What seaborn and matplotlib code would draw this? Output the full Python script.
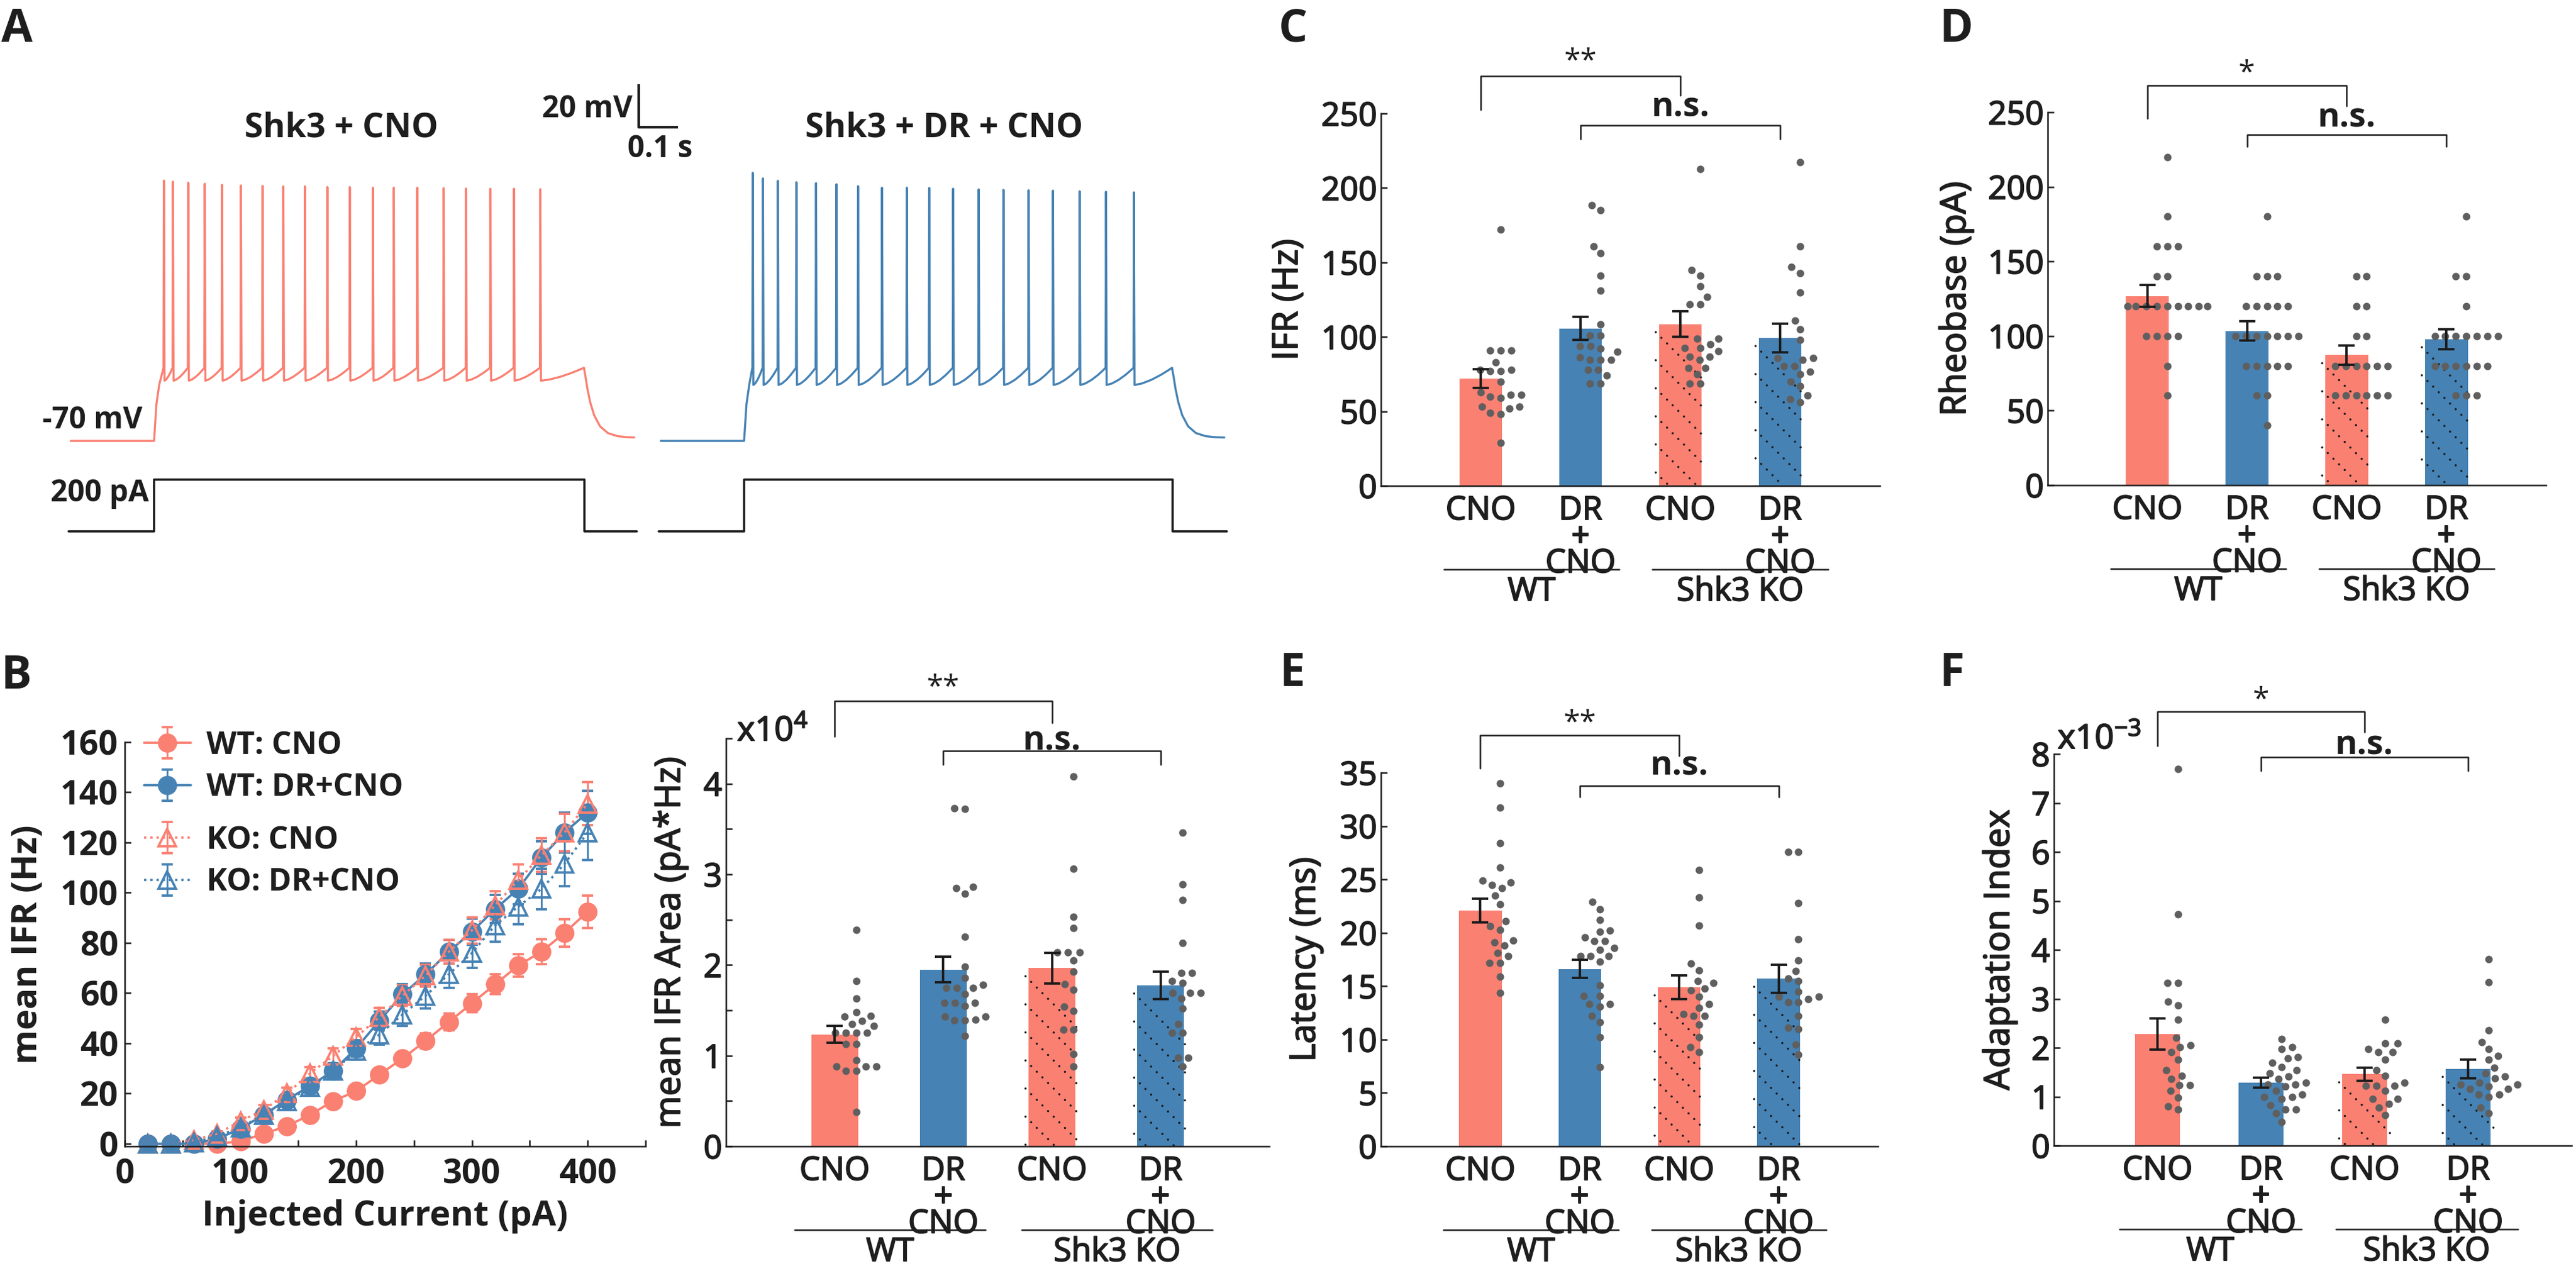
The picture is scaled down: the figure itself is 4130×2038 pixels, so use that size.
import warnings
import numpy as np
import pandas as pd
import seaborn as sns
import matplotlib.pyplot as plt
from matplotlib import patheffects as pe
from matplotlib.lines import Line2D
from matplotlib.patches import Rectangle
from matplotlib.ticker import MultipleLocator
from matplotlib.transforms import IdentityTransform

warnings.filterwarnings('ignore')

W, H, DPI = 4130, 2038, 300
RED = '#FA8072'
BLUE = '#4682B4'
DOT = '#5f5f5f'
INK = '#1e1e1e'

# ---------------- A: example current-clamp traces (ms after step onset, mV)
a_left_spikes = [25, 48, 87, 129, 173, 221, 276, 329, 384, 441, 498, 557, 610, 670, 737, 794, 856, 916, 983]
a_left_peaks = [51, 50.5, 50, 49.5, 49, 48.7, 48.5, 48.3, 48.3, 48, 48, 47.7, 47.7, 47.7, 47.5, 47.3, 47.2, 47.2, 47]
a_right_spikes = [22, 48, 86, 133, 183, 235, 290, 351, 414, 471, 532, 597, 660, 724, 786, 854, 921, 992]
a_right_peaks = [54.6, 52, 50.9, 50.2, 49.8, 49.3, 48.4, 47.7, 47.7, 47.6, 47.2, 46.9, 46.7, 46.5, 46.3, 46, 45.8, 45.5]
a_rest_mv = -70
a_step_pa = 200
a_step_ms = 1095

# ---------------- B left: mean IFR vs injected current
b_current = [20, 40, 60, 80, 100, 120, 140, 160, 180, 200, 220, 240, 260, 280, 300, 320, 340, 360, 380, 400]
b_wt_cno = [0, 0, 0, 0, 1, 4, 7, 11.5, 17, 21, 27.5, 34, 41, 48.5, 56, 63.5, 71, 76.5, 84, 92.5]
b_wt_cno_sem = [0.3, 0.3, 0.3, 0.3, 0.5, 1, 1.2, 1.5, 1.8, 2, 2.3, 2.6, 3, 3.3, 3.7, 4, 4.5, 5, 5.5, 6.5]
b_wt_dr = [0, 0, 0, 2, 6, 11.5, 17.5, 23, 29, 38, 49, 59.5, 67.5, 76.5, 84.5, 93.5, 101.5, 114, 124, 132]
b_wt_dr_sem = [0.3, 0.3, 0.5, 0.8, 1.2, 1.6, 2, 2.4, 2.8, 3.2, 3.6, 4, 4.4, 4.8, 5.2, 5.6, 6, 6.5, 8, 8.5]
b_ko_cno = [0, 0, 1.5, 4, 9, 13.5, 20, 28, 35, 42.5, 50.5, 59, 67, 76.5, 85, 95, 105, 115, 124, 135.5]
b_ko_cno_sem = [0.3, 0.3, 0.6, 1, 1.5, 2, 2.3, 2.6, 3, 3.3, 3.7, 4, 4.4, 4.8, 5.2, 5.6, 6.2, 6.8, 7.5, 8.5]
b_ko_dr = [0, 0, 0.5, 3, 6.5, 11.5, 17, 22.5, 29, 37, 43.5, 51.5, 59, 67.5, 76, 87, 94.5, 101.5, 111.5, 124]
b_ko_dr_sem = [0.3, 0.3, 0.5, 0.8, 1.3, 1.7, 2, 2.5, 3, 3.5, 4, 4.5, 5, 5.5, 6, 6.5, 7, 8, 9, 11]

# ---------------- bar panels, order: WT CNO, WT DR+CNO, KO CNO, KO DR+CNO
groups = ['CNO', 'DR\n+\nCNO', 'CNO', 'DR\n+\nCNO']
bar_colors = [RED, BLUE, RED, BLUE]

# B right: mean IFR area (x10^4 pA*Hz)
area_mean = [1.235, 1.95, 1.965, 1.775]
area_sem = [0.09, 0.14, 0.17, 0.15]
area_wt_cno = [2.39, 1.82, 1.63, 1.48, 1.44, 1.43, 1.38, 1.35, 1.33, 1.25, 1.25, 1.25, 1.25, 1.13, 1.13, 0.95, 0.88, 0.88, 0.88, 0.83, 0.83, 0.38]
area_wt_dr = [3.73, 3.72, 2.86, 2.85, 2.79, 2.31, 1.98, 1.86, 1.78, 1.75, 1.75, 1.75, 1.68, 1.58, 1.58, 1.58, 1.55, 1.43, 1.43, 1.40, 1.39, 1.39, 1.22]
area_ko_cno = [4.08, 3.06, 2.53, 2.41, 2.14, 2.14, 2.14, 2.05, 1.93, 1.79, 1.73, 1.54, 1.49, 1.29, 1.29, 1.02, 0.88]
area_ko_dr = [3.46, 2.89, 2.72, 2.24, 1.91, 1.91, 1.82, 1.80, 1.69, 1.69, 1.69, 1.63, 1.52, 1.35, 1.25, 1.25, 0.98, 0.98, 0.88]

# C: IFR (Hz)
ifr_mean = [72, 105.7, 108.6, 99.3]
ifr_sem = [6.4, 7.6, 8.7, 9.5]
ifr_wt_cno = [172, 91, 91, 91, 83, 78, 78, 77, 77, 70, 63, 61, 61, 60, 59, 53, 53, 52, 49, 48, 29]
ifr_wt_dr = [188.6, 185, 161, 156, 141, 131, 108.6, 101, 101, 94, 94, 92, 90, 86.4, 84.6, 84.6, 84.6, 78, 78, 74, 68.6, 68.6]
ifr_ko_cno = [212.6, 145, 141, 134, 127, 122, 122, 99, 99, 95, 92.6, 92.6, 90.4, 86.7, 86.7, 84.6, 79, 79, 75, 68.6, 68.6]
ifr_ko_dr = [217.5, 161, 147, 143, 130, 111, 105, 98, 86, 86, 84.6, 80.6, 80.6, 76.6, 75, 70, 67, 60.6, 58, 56]

# D: rheobase (pA)
rheo_mean = [126.7, 103.3, 87.2, 97.9]
rheo_sem = [7.3, 6.5, 6.4, 6.7]
rheo_wt_cno = [220, 180, 160, 160, 160, 140, 140, 120, 120, 120, 120, 120, 120, 120, 120, 120, 100, 100, 100, 100, 80, 60]
rheo_wt_dr = [180, 140, 140, 140, 120, 120, 120, 120, 120, 100, 100, 100, 100, 100, 100, 100, 80, 80, 80, 80, 80, 60, 60, 40]
rheo_ko_cno = [140, 140, 120, 120, 100, 100, 80, 80, 80, 80, 80, 80, 60, 60, 60, 60, 60, 60]
rheo_ko_dr = [180, 140, 140, 120, 100, 100, 100, 100, 100, 100, 100, 80, 80, 80, 80, 80, 80, 60, 60, 60]

# E: latency (ms)
lat_mean = [22.1, 16.6, 14.9, 15.7]
lat_sem = [1.1, 0.85, 1.1, 1.3]
lat_wt_cno = [34, 31.7, 28.4, 26.1, 24.9, 24.7, 24.5, 24.2, 23.5, 22.7, 21.1, 20.6, 20.3, 19.3, 19.1, 18.8, 18.1, 17.8, 17.2, 17.2, 15.9, 14.4]
lat_wt_dr = [22.9, 22.2, 21.2, 20.2, 20.1, 19.6, 19.2, 19.2, 18.6, 18.4, 17.8, 17.8, 17.8, 17.3, 15.1, 14.1, 14.1, 13.3, 13.3, 13.1, 12.2, 11.6, 10.2, 7.4]
lat_ko_cno = [25.9, 23.3, 20.7, 17.1, 16.5, 15.5, 15.3, 14.8, 14.6, 14.0, 13.3, 13.0, 12.4, 12.2, 12.2, 11.4, 10.2, 9.3, 8.8]
lat_ko_dr = [27.6, 27.6, 22.8, 19.4, 17.4, 16.4, 15.7, 15.5, 14.5, 14.0, 14.0, 13.8, 13.5, 13.5, 12.2, 11.1, 11.0, 9.5, 8.6]

# F: adaptation index (x10^-3)
adapt_mean = [2.28, 1.29, 1.46, 1.57]
adapt_sem = [0.32, 0.1, 0.13, 0.19]
adapt_wt_cno = [7.69, 4.73, 3.32, 3.32, 2.94, 2.87, 2.57, 2.2, 2.05, 2.01, 1.91, 1.76, 1.54, 1.43, 1.36, 1.23, 1.23, 1.12, 0.98, 0.80, 0.74]
adapt_wt_dr = [2.18, 2.01, 1.97, 1.81, 1.78, 1.69, 1.61, 1.54, 1.48, 1.42, 1.36, 1.29, 1.25, 1.25, 1.21, 1.12, 1.04, 1.0, 1.0, 0.95, 0.83, 0.74, 0.74, 0.66, 0.49]
adapt_ko_cno = [2.57, 2.09, 2.09, 1.97, 1.91, 1.91, 1.76, 1.54, 1.43, 1.29, 1.22, 1.22, 1.22, 1.12, 0.95, 0.95, 0.85, 0.78, 0.62]
adapt_ko_dr = [3.81, 3.34, 2.36, 2.12, 1.97, 1.84, 1.76, 1.59, 1.48, 1.42, 1.38, 1.29, 1.25, 1.25, 1.21, 1.16, 1.16, 1.05, 1.04, 1.0, 0.78, 0.66]


sns.set_theme(style='ticks')
plt.rcParams.update({
    'font.family': ['Open Sans', 'DejaVu Sans'],
    'mathtext.fontset': 'custom', 'mathtext.rm': 'Open Sans', 'mathtext.default': 'regular',
    'axes.edgecolor': INK, 'axes.linewidth': 0.6, 'axes.labelcolor': INK, 'text.color': INK,
    'xtick.color': INK, 'ytick.color': INK,
    'xtick.direction': 'in', 'ytick.direction': 'in',
    'xtick.major.size': 2.4, 'ytick.major.size': 2.4, 'xtick.minor.size': 2.4, 'ytick.minor.size': 2.4,
    'xtick.major.width': 0.6, 'ytick.major.width': 0.6, 'xtick.minor.width': 0.6, 'ytick.minor.width': 0.6,
    'axes.spines.top': False, 'axes.spines.right': False,
})

TICK_FS = 12.5
LAB_FS = 13.5
# a little stroke gives the medium weight of the original lettering
MED = [pe.withStroke(linewidth=0.45, foreground=INK)]
fig = plt.figure(figsize=(W / DPI, H / DPI), dpi=DPI)
fig.patch.set_facecolor('white')


def fig_axes(x0, y0, x1, y1):
    # box in figure pixels, y measured from the top
    return fig.add_axes([x0 / W, 1 - y1 / H, (x1 - x0) / W, (y1 - y0) / H])


def panel_letter(x, y, s):
    fig.text(x / W, 1 - y / H, s, fontsize=17.5, fontweight='bold', va='top', ha='left')


# ---------------- panel A
PX_MS, PX_MV, ONSET_PX, REST_PX = 0.63, 3.45, 247, 707
PA_ZERO_PX, PX_PA = 852, 0.415
RIGHT_SHIFT = (1193 - ONSET_PX) / PX_MS


def membrane_trace(spikes, peaks, trough, stop, t_end=1222):
    thr = -36.0
    t = [-212.0, 0.0, 6.0, 13.0, spikes[0] - 1.0]
    v = [a_rest_mv, a_rest_mv, -53.0, -44.0, thr]
    for i, (ts, pk) in enumerate(zip(spikes, peaks)):
        t += [ts, ts + 1.6]
        v += [pk, trough]
        nxt = spikes[i + 1] if i + 1 < len(spikes) else stop
        gap = nxt - ts - 2.6
        for u in (0.2, 0.45, 0.7, 0.9):
            t.append(ts + 1.6 + u * gap)
            v.append(trough + (thr - trough) * u ** 1.5)
        t.append(nxt - 1.0)
        v.append(thr)
    for k in (3, 8, 15, 25, 40, 60, 85, 110, t_end - stop):
        t.append(stop + k)
        v.append(a_rest_mv + 1.5 + (thr - a_rest_mv - 1.5) * np.exp(-k / 22))
    return np.array(t), np.array(v)


axa = fig_axes(0, 0, 2040, 1000)
axa.set_axis_off()
axa.set_xlim(-ONSET_PX / PX_MS, (2040 - ONSET_PX) / PX_MS)
axa.set_ylim(a_rest_mv - (1000 - REST_PX) / PX_MV, a_rest_mv + REST_PX / PX_MV)
tl, vl = membrane_trace(a_left_spikes, a_left_peaks, -42.0, a_step_ms)
tr_, vr = membrane_trace(a_right_spikes, a_right_peaks, -44.0, a_step_ms - 5)
sns.lineplot(x=tl, y=vl, ax=axa, color=RED, lw=0.8, sort=False, estimator=None)
sns.lineplot(x=tr_ + RIGHT_SHIFT, y=vr, ax=axa, color=BLUE, lw=0.8, sort=False, estimator=None)
axa.plot([1233, 1233, 1333], [95.8, 75.8, 75.8], color='k', lw=1.0, solid_capstyle='butt')
axa.text(1217, 84.2, '20 mV', ha='right', va='center', fontsize=11.5, fontweight='bold')
axa.text(1287, 65.4, '0.1 s', ha='center', va='center', fontsize=11.5, fontweight='bold')
axa.text(-157, -60.7, '-70 mV', ha='center', va='center', fontsize=11.5, fontweight='bold')
axa.text(476, 75.5, 'Shk3 + CNO', ha='center', va='center', fontsize=13, fontweight='bold')
axa.text(RIGHT_SHIFT + 509, 75.5, 'Shk3 + DR + CNO', ha='center', va='center', fontsize=13, fontweight='bold')

axi = fig_axes(0, 0, 2040, 1000)
axi.set_axis_off()
axi.set_xlim(axa.get_xlim())
axi.set_ylim(-(1000 - PA_ZERO_PX) / PX_PA, PA_ZERO_PX / PX_PA)
for shift, stop in [(0, a_step_ms), (RIGHT_SHIFT, a_step_ms - 5)]:
    axi.plot(np.array([-218, 0, 0, stop, stop, 1228]) + shift,
             [0, 0, a_step_pa, a_step_pa, 0, 0], color='k', lw=0.85)
axi.text(-138, 145, '200 pA', ha='center', va='center', fontsize=11.5, fontweight='bold')

# ---------------- panel B left
axb = fig_axes(200, 1190, 1035, 1838)
series = [('WT: CNO', b_wt_cno, b_wt_cno_sem, RED, 'o', '-', True),
          ('WT: DR+CNO', b_wt_dr, b_wt_dr_sem, BLUE, 'o', '-', True),
          ('KO: CNO', b_ko_cno, b_ko_cno_sem, RED, '^', ':', False),
          ('KO: DR+CNO', b_ko_dr, b_ko_dr_sem, BLUE, '^', ':', False)]
handles = []
for lab, m, e, col, mk, ls, filled in series:
    hnd = axb.errorbar(b_current, m, yerr=e, color=col, marker=mk, ls=ls, lw=0.9, ms=6.5,
                       mfc=col if filled else 'none', mec=col, mew=0.9, capsize=2.2,
                       elinewidth=0.7, capthick=0.7, label=lab, clip_on=False)
    handles.append(hnd)
axb.set_xlim(0, 450)
axb.set_ylim(-1, 160)
axb.xaxis.set_major_locator(MultipleLocator(100))
axb.xaxis.set_minor_locator(MultipleLocator(50))
axb.yaxis.set_major_locator(MultipleLocator(20))
axb.tick_params(labelsize=13, pad=2.5)
axb.tick_params(axis='x', pad=4.5)
plt.setp(axb.get_xticklabels() + axb.get_yticklabels(), fontweight='bold')
axb.set_xlabel('Injected Current (pA)', fontsize=13.5, fontweight='bold', labelpad=3)
axb.set_ylabel('mean IFR (Hz)', fontsize=13.5, fontweight='bold')
axb.yaxis.set_label_coords(-128 / 835, 0.5)
legkw = dict(loc='upper left', frameon=False, borderpad=0, borderaxespad=0, handlelength=1.5,
             handletextpad=0.5, labelspacing=0.35, prop={'weight': 'bold', 'size': 12})
leg1 = axb.legend(handles=handles[:2], labels=[s[0] for s in series[:2]],
                  bbox_to_anchor=(0.037, 1.03), **legkw)
axb.add_artist(leg1)
axb.legend(handles=handles[2:], labels=[s[0] for s in series[2:]],
           bbox_to_anchor=(0.037, 0.795), **legkw)


# ---------------- bar panels
def dotted_hatch(ax, bar, gap=45.0):
    bb = bar.get_window_extent()
    span = bb.width + bb.height
    for d in np.arange(18, span + gap, gap):
        c = bb.x0 + bb.y1 - d
        xs = np.array([bb.x0 - 5, bb.x1 + 5])
        ln = Line2D(xs, c - xs, transform=IdentityTransform(), color='k', lw=0.85,
                    linestyle=(0, (0.01, 3.6)), dash_capstyle='round', zorder=1.5)
        ln.set_clip_path(bar)
        ax.add_artist(ln)


def bar_panel(box, means, sems, cells, ymax, major, ylabel, ylab_px, star, ns, minor=None):
    ax = fig_axes(*box)
    ax_w, ax_h = box[2] - box[0], box[3] - box[1]
    bdf = pd.DataFrame({'pos': [0, 1, 2, 3], 'val': means, 'grp': ['a', 'b', 'c', 'd']})
    sns.barplot(data=bdf, x='pos', y='val', hue='grp', palette=bar_colors, native_scale=True,
                width=0.43, dodge=False, legend=False, saturation=1, linewidth=0,
                errorbar=None, ax=ax, zorder=1)
    sdf = pd.DataFrame({'pos': np.concatenate([[i + 0.2] * len(c) for i, c in enumerate(cells)]),
                        'val': np.concatenate(cells)})
    sns.swarmplot(data=sdf, x='pos', y='val', native_scale=True, orient='x', color=DOT,
                  size=2.9, linewidth=0.95, edgecolor=(1, 1, 1, 0), warn_thresh=1,
                  ax=ax, zorder=3)
    ax.errorbar([0, 1, 2, 3], means, yerr=sems, fmt='none', ecolor='k', elinewidth=0.9,
                capsize=3.2, capthick=0.9, zorder=4)
    ax.set_xlim(-1, 4)
    ax.set_ylim(0, ymax)
    ax.yaxis.set_major_locator(MultipleLocator(major))
    if minor:
        ax.yaxis.set_minor_locator(MultipleLocator(minor))
    ax.set_xticks([0, 1, 2, 3])
    ax.set_xticklabels(groups, linespacing=0.78)
    ax.tick_params(labelsize=TICK_FS)
    ax.tick_params(axis='y', pad=1.5)
    ax.tick_params(axis='x', pad=3.6)
    for t in ax.get_xticklabels() + ax.get_yticklabels():
        t.set_path_effects(MED)
    ax.set_xlabel('')
    ax.set_ylabel(ylabel, fontsize=LAB_FS, path_effects=MED)
    ax.yaxis.set_label_coords(-ylab_px / ax_w, 0.5)

    bars = sorted([p for p in ax.patches if isinstance(p, Rectangle) and p.get_width() > 0],
                  key=lambda p: p.get_x())
    for bar in bars[2:]:
        dotted_hatch(ax, bar)

    tr = ax.get_xaxis_transform()
    for (g0, g1), name in zip([(-0.37, 1.39), (1.72, 3.48)], ['WT', 'Shk3 KO']):
        ax.plot([g0, g1], [-134 / ax_h] * 2, transform=tr, color=INK, lw=0.6, clip_on=False)
        ax.text((g0 + g1) / 2, -184 / ax_h, name, transform=tr, ha='center', va='baseline',
                fontsize=12.5, path_effects=MED)

    y, dl, dr, ty, txt = star
    ax.plot([0, 0, 2, 2], [dl, y, y, dr], color=INK, lw=0.6, clip_on=False)
    ax.text(1, ty, txt, ha='center', va='center', fontsize=11.5, clip_on=False)
    y, d, ty = ns
    ax.plot([1, 1, 3, 3], [d, y, y, d], color=INK, lw=0.6, clip_on=False)
    ax.text(2, ty, 'n.s.', ha='center', va='center', fontsize=13, fontweight='bold', clip_on=False)
    return ax


axbb = bar_panel((1164, 1184, 2035, 1838), area_mean, area_sem,
                 [area_wt_cno, area_wt_dr, area_ko_cno, area_ko_dr], 4.5, 1,
                 'mean IFR Area (pA*Hz)', 60, (4.91, 4.52, 4.67, 5.06, '**'), (4.36, 4.21, 4.47),
                 minor=0.5)
axbb.text(18 / 871, 1.0 + 11 / 654, 'x10$^{4}$', transform=axbb.transAxes, ha='left',
          va='center', fontsize=13, path_effects=MED)

bar_panel((2214, 182, 3014, 779), ifr_mean, ifr_sem,
          [ifr_wt_cno, ifr_wt_dr, ifr_ko_cno, ifr_ko_dr], 250, 50,
          'IFR (Hz)', 120, (275.3, 252.7, 262, 284.7, '**'), (242, 233, 254))

bar_panel((3283, 180, 4082, 778), rheo_mean, rheo_sem,
          [rheo_wt_cno, rheo_wt_dr, rheo_ko_cno, rheo_ko_dr], 250, 50,
          'Rheobase (pA)', 118, (268, 246, 254, 276, '*'), (234.8, 226.8, 246))

bar_panel((2214, 1239, 3011, 1838), lat_mean, lat_sem,
          [lat_wt_cno, lat_wt_dr, lat_ko_cno, lat_ko_dr], 35, 5,
          'Latency (ms)', 92, (38.5, 35.4, 36.6, 39.6, '**'), (33.8, 32.7, 35.6))

axf = bar_panel((3293, 1209, 4123, 1837), adapt_mean, adapt_sem,
                [adapt_wt_cno, adapt_wt_dr, adapt_ko_cno, adapt_ko_dr], 8, 1,
                'Adaptation Index', 58, (8.87, 8.17, 8.45, 9.1, '*'), (7.93, 7.65, 8.17))
axf.text(6 / 830, 1.0 + 23 / 628, 'x10$^{-3}$', transform=axf.transAxes, ha='left',
         va='center', fontsize=13, path_effects=MED)

panel_letter(2, 11, 'A')
panel_letter(2, 1048, 'B')
panel_letter(2050, 11, 'C')
panel_letter(3110, 11, 'D')
panel_letter(2052, 1044, 'E')
panel_letter(3110, 1044, 'F')

fig.savefig('out.png', dpi=DPI, facecolor='white')
